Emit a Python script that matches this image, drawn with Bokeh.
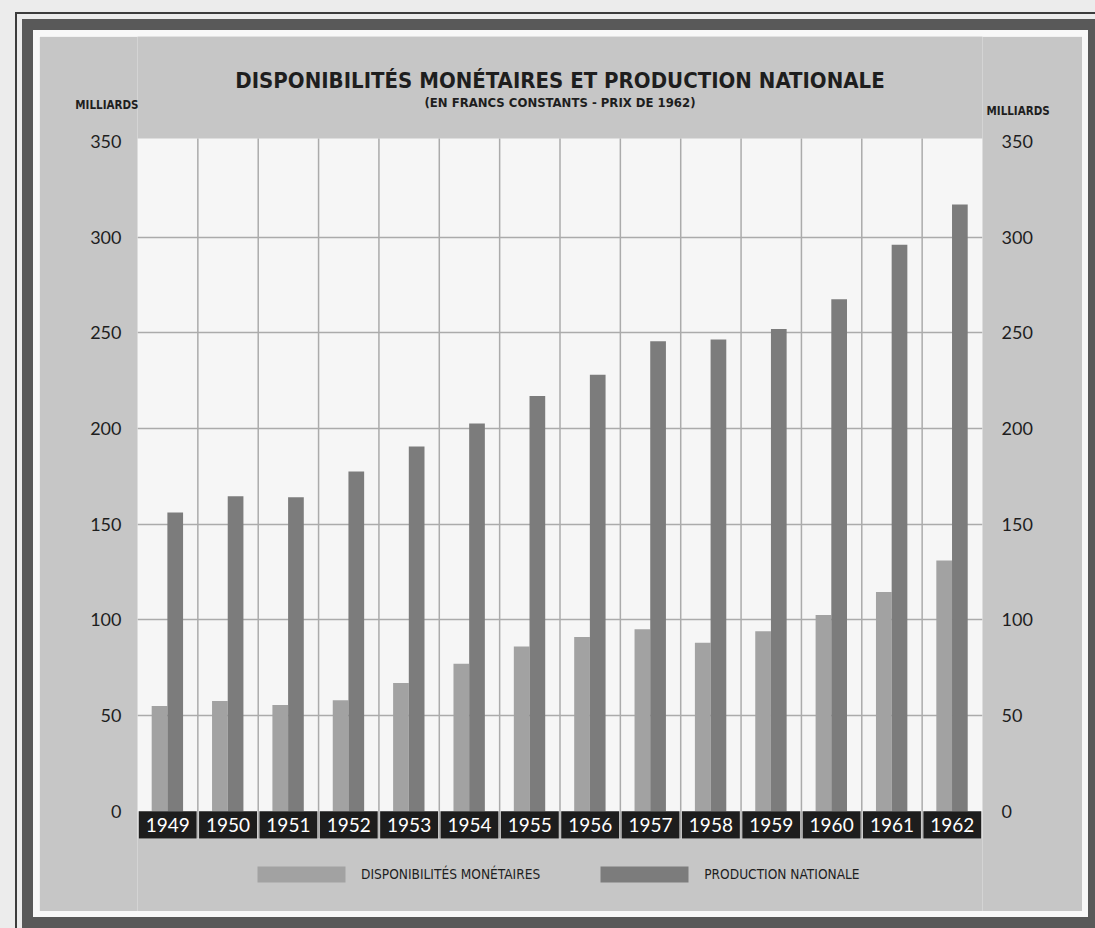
from bokeh.plotting import figure
from bokeh.models import (FactorRange, Range1d, LinearAxis, FixedTicker,
                          Legend, LegendItem, Label, BoxAnnotation, ColumnDataSource)
from bokeh.core.properties import value
from bokeh.transform import dodge
from bokeh.embed import file_html
from bokeh.resources import INLINE

# ---- data ----
years = ["1949", "1950", "1951", "1952", "1953", "1954", "1955",
         "1956", "1957", "1958", "1959", "1960", "1961", "1962"]
disponibilites = [55, 57.5, 55.5, 58, 67, 77, 86, 91, 95, 88, 94, 102.5, 114.5, 131]
production = [156, 164.5, 164, 177.5, 190.5, 202.5, 217, 228, 245.5, 246.5, 252, 267.5, 296, 317]
y_ticks = [0, 50, 100, 150, 200, 250, 300, 350]
grid_ticks = [50, 100, 150, 200, 250, 300]

title_text = "DISPONIBILITÉS MONÉTAIRES ET PRODUCTION NATIONALE"
subtitle_text = "(EN FRANCS CONSTANTS - PRIX DE 1962)"
unit_text = "MILLIARDS"
series_names = ["DISPONIBILITÉS MONÉTAIRES", "PRODUCTION NATIONALE"]

# ---- style ----
PANEL = "#c6c6c6"
PAGE = "#ececec"
BAND = "#595959"
WHITE = "#f6f6f6"
LIGHT = "#a2a2a2"
DARK = "#7c7c7c"
BOX = "#1d1d1d"
GRID = "#ababab"
INK = "#1e1e1e"
COND = "'DejaVu Sans Condensed', 'Liberation Sans Narrow', sans-serif"
NUMF = "Lato"

# vertical layout in value space
BOX_BOTTOM = -14.3     # bottom of the black year boxes
CHART_TOP = 351.5      # top of the white chart area
W, H = 1043, 875
src = ColumnDataSource(dict(year=years, disp=disponibilites, prod=production))

p = figure(width=W, height=H,
           x_range=FactorRange(factors=years, range_padding=0),
           y_range=Range1d(-52.45, 404.8),
           x_axis_location=None,
           output_backend="svg", toolbar_location=None,
           min_border_left=98, min_border_right=100,
           min_border_top=0, min_border_bottom=0,
           background_fill_color=PANEL, border_fill_color=PANEL,
           outline_line_color=None)
p.margin = (36, 0, 0, 39)
p.styles = {"box-shadow": "0 0 0 6px #f8f8f8, 0 0 0 17px " + BAND + ", 0 0 0 22px " + PAGE
            + ", 0 0 0 24px #3c3c3c, 0 0 0 500px " + PAGE}
p.xgrid.grid_line_color = None
p.xgrid.visible = False

# white chart area
p.add_layout(BoxAnnotation(bottom=BOX_BOTTOM, top=CHART_TOP, fill_color=WHITE,
                           fill_alpha=1, line_color=None, level="image"))

# horizontal grid
p.ygrid.ticker = FixedTicker(ticks=grid_ticks)
p.ygrid.grid_line_color = GRID
p.ygrid.grid_line_width = 1.5

# vertical separators between years
bounds = list(range(1, len(years)))
p.segment(x0=bounds, y0=[BOX_BOTTOM] * len(bounds), x1=bounds, y1=[CHART_TOP] * len(bounds),
          line_color=GRID, line_width=1.5)

# bars
r1 = p.vbar(x=dodge("year", -0.135, range=p.x_range), top="disp", width=0.26,
            source=src, fill_color=LIGHT, line_color=None)
r2 = p.vbar(x=dodge("year", 0.125, range=p.x_range), top="prod", width=0.26,
            source=src, fill_color=DARK, line_color=None)

# year boxes
p.vbar(x="year", bottom=BOX_BOTTOM, top=0, width=0.96, source=src,
       fill_color=BOX, line_color=None)
p.text(x="year", y=BOX_BOTTOM / 2, text="year", source=src, text_color="white",
       text_font=value(NUMF), text_font_size="19px",
       text_align="center", text_baseline="middle")

# value axes
def style_axis(ax, standoff):
    ax.ticker = FixedTicker(ticks=y_ticks)
    ax.axis_line_color = None
    ax.major_tick_line_color = None
    ax.minor_tick_line_color = None
    ax.major_tick_out = 0
    ax.major_tick_in = 0
    ax.major_label_standoff = standoff
    ax.major_label_text_font = NUMF
    ax.major_label_text_font_size = "18px"
    ax.major_label_text_color = INK

style_axis(p.yaxis[0], 16)
rax = LinearAxis()
style_axis(rax, 19)
p.add_layout(rax, "right")

# unit captions ("MILLIARDS") as single overridden ticks on outer axes
def unit_axis(tick, standoff):
    ax = LinearAxis(ticker=FixedTicker(ticks=[tick]),
                    major_label_overrides={tick: unit_text})
    ax.axis_line_color = None
    ax.major_tick_line_color = None
    ax.minor_tick_line_color = None
    ax.major_tick_out = 0
    ax.major_tick_in = 0
    ax.major_label_standoff = standoff
    ax.major_label_text_font = COND
    ax.major_label_text_font_style = "bold"
    ax.major_label_text_font_size = "11.5px"
    ax.major_label_text_color = INK
    return ax

p.add_layout(unit_axis(369, -51), "left")
p.add_layout(unit_axis(366, -49), "right")

# titles
n = len(years)
p.add_layout(Label(x=n / 2, y=381.8, text=title_text, text_align="center",
                   text_baseline="middle", text_font=COND, text_font_style="bold",
                   text_font_size="22px", text_color=INK))
p.add_layout(Label(x=n / 2, y=370.3, text=subtitle_text, text_align="center",
                   text_baseline="middle", text_font=COND, text_font_style="bold",
                   text_font_size="13px", text_color=INK))

# legend
legend = Legend(items=[LegendItem(label=series_names[0], renderers=[r1]),
                       LegendItem(label=series_names[1], renderers=[r2])],
                orientation="horizontal", location=(109, 27),
                glyph_width=110, glyph_height=20, label_height=20,
                label_standoff=5, spacing=49, padding=0, margin=0,
                background_fill_alpha=0, border_line_color=None,
                label_text_font=COND, label_text_font_size="13.6px",
                label_text_color=INK)
p.add_layout(legend, "center")

open("out.html", "w").write(file_html(p, INLINE))
